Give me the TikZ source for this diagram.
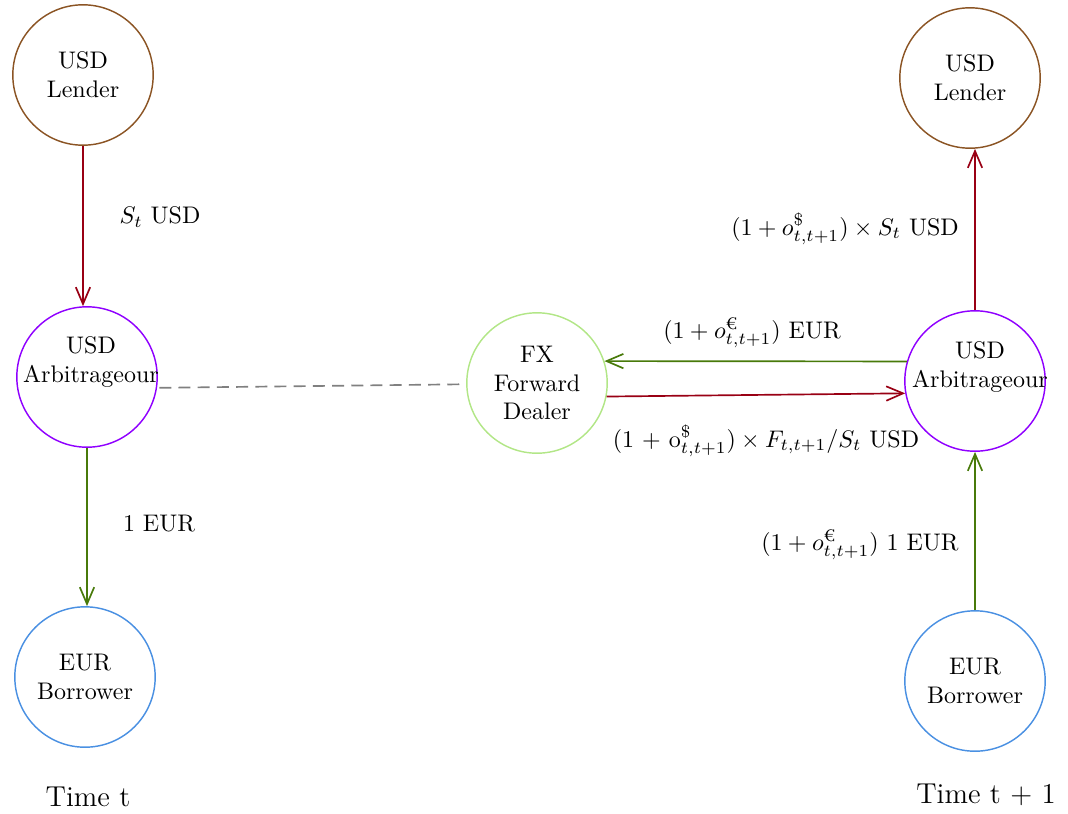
\documentclass[tikz,border=0pt]{standalone}
\usepackage{fontspec}
\usepackage{amsmath}
\usetikzlibrary{arrows.meta}
\definecolor{lenderc}{RGB}{139,84,36}
\definecolor{arbc}{RGB}{143,0,255}
\definecolor{borc}{RGB}{74,144,226}
\definecolor{fxc}{RGB}{178,230,135}
\definecolor{redarr}{RGB}{153,0,20}
\definecolor{greenarr}{RGB}{72,122,10}
\tikzset{
  agent/.style={circle, draw, line width=0.6pt, minimum size=58.5pt, inner sep=0pt, align=center, font=\normalsize},
  agenttext/.style={inner sep=0pt, align=center, font=\normalsize},
  flow/.style={line width=0.7pt, -{Straight Barb[length=7pt,width=6pt]}},
  lbl/.style={font=\normalsize, inner sep=0pt},
  timelbl/.style={font=\large, inner sep=0pt}
}
\begin{document}
\begin{tikzpicture}[x=0.41667pt, y=-0.41667pt]
\useasboundingbox (0,0) rectangle (1068,813);
\node[agent, draw=lenderc] (lenderL) at (83,75) {USD\\Lender};
\node[agent, draw=arbc] (arbL) at (87,377) {};
\node[agenttext] (arbLtext) at (91,362) {USD\\Arbitrageour};
\node[agent, draw=borc] (borL) at (85,677) {EUR\\Borrower};
\node[agent, draw=fxc] (fx) at (537,383) {FX\\Forward\\Dealer};
\node[agent, draw=lenderc] (lenderR) at (970,78) {USD\\Lender};
\node[agent, draw=arbc] (arbR) at (975,381) {};
\node[agenttext] (arbRtext) at (980,367) {USD\\Arbitrageour};
\node[agent, draw=borc] (borR) at (975,681) {EUR\\Borrower};

\node[timelbl] (timeL) at (88,797) {Time t};
\node[timelbl] (timeR) at (986,795) {Time t + 1};

\draw[flow, draw=redarr] (lenderL.south) -- (lenderL.south |- arbL.north);
\draw[flow, draw=greenarr] (arbL.south) -- (arbL.south |- borL.north);
\draw[gray, line width=0.7pt, dash pattern=on 5pt off 3pt] (arbLtext.south east) -- (fx.181);
\draw[flow, draw=greenarr] (arbR.164) -- (fx.18);
\draw[flow, draw=redarr] (fx.-11) -- (arbR.190);
\draw[flow, draw=redarr] (arbR.north) -- (arbR.north |- lenderR.south);
\draw[flow, draw=greenarr] (borR.north) -- (arbR.south);

\node[lbl] (l1) at (160,217) {$S_t$ USD};
\node[lbl] (l2) at (159,524) {1 EUR};
\node[lbl] (l3) at (752,333) {$(1+o^{\text{€}}_{t,t+1})$ EUR};
\node[lbl] (l4) at (766,441) {$(1$ + $\mathrm{o}^{\$}_{t,t+1}) \times F_{t,t+1}/S_t$ USD};
\node[lbl] (l5) at (845,229) {$(1+o^{\$}_{t,t+1})\times S_t$ USD};
\node[lbl] (l6) at (860,545) {$(1+o^{\text{€}}_{t,t+1})$ 1 EUR};
\end{tikzpicture}
\end{document}
